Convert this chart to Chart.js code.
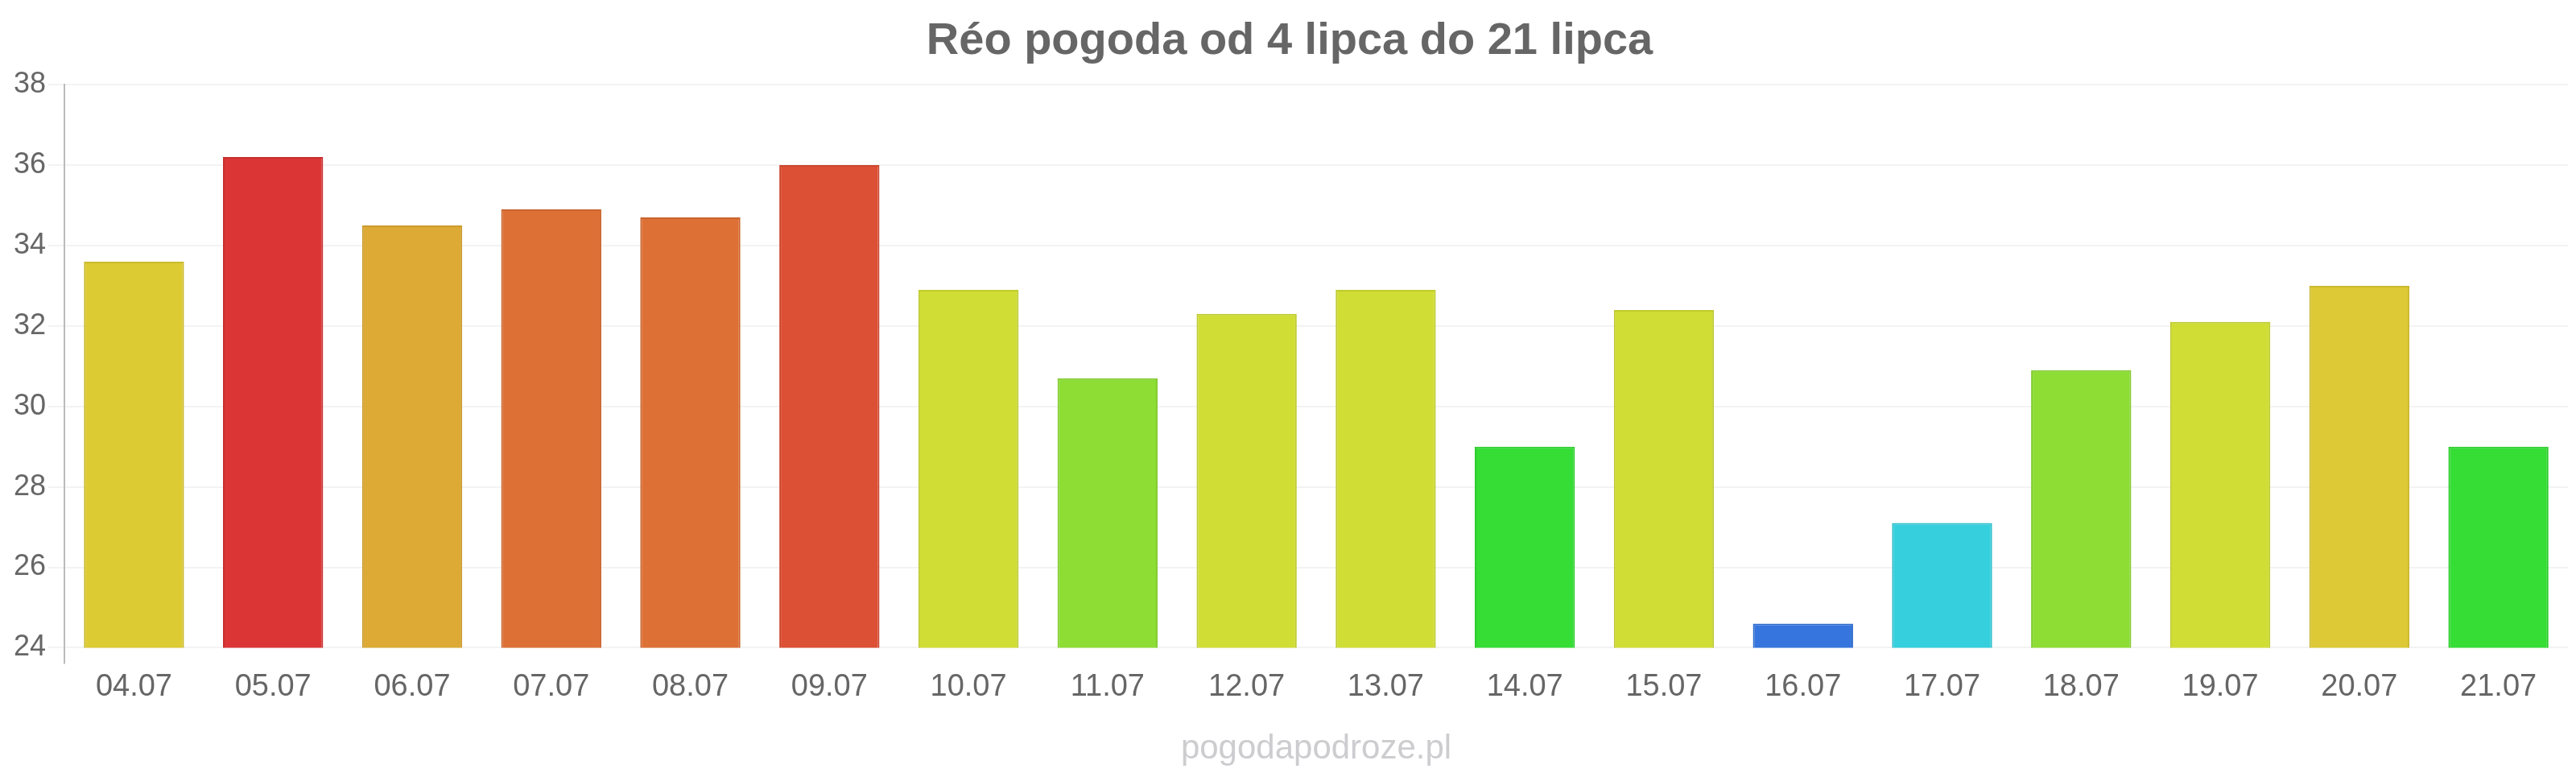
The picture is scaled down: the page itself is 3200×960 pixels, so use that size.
<!DOCTYPE html>
<html>
<head>
<meta charset="utf-8">
<script src="https://cdn.jsdelivr.net/npm/chart.js@4"></script>
<style>
html,body{margin:0;padding:0;background:#fff;}
#wrap{width:3200px;height:960px;position:relative;}
</style>
</head>
<body>
<div id="wrap"><canvas id="c" width="3200" height="960"></canvas></div>
<script>
const categories = ["04.07","05.07","06.07","07.07","08.07","09.07","10.07","11.07","12.07","13.07","14.07","15.07","16.07","17.07","18.07","19.07","20.07","21.07"];
const temperatures = [33.6,36.2,34.5,34.9,34.7,36.0,32.9,30.7,32.3,32.9,29.0,32.4,24.6,27.1,30.9,32.1,33.0,29.0];
const barColors = ["#dccb33","#db3535","#dcaa35","#dd7035","#dd7035","#dc5035","#d0dd35","#8ddd35","#d0dd35","#d0dd35","#35dd35","#d0dd35","#3575dd","#35cfdd","#8ddd35","#d0dd35","#dcc935","#35dd35"];
const borderColors = ["#cbbb2c","#c92e2e","#cb9b2e","#cb642e","#cb642e","#cb472e","#bfcb2e","#80cb2e","#bfcb2e","#bfcb2e","#2ecb2e","#bfcb2e","#2e6acb","#2ebecb","#80cb2e","#bfcb2e","#cbb92e","#2ecb2e"];
const yTicks = [24,26,28,30,32,34,36,38];
const titleText = "Réo pogoda od 4 lipca do 21 lipca";
const watermark = "pogodapodroze.pl";

const FONT = "'Liberation Sans', Arial, sans-serif";

const watermarkPlugin = {
  id: 'watermark',
  afterDraw(chart) {
    const ctx = chart.ctx;
    const a = chart.chartArea;
    ctx.save();
    ctx.font = "42px " + FONT;
    ctx.fillStyle = '#cdcdd0';
    ctx.textAlign = 'center';
    ctx.textBaseline = 'alphabetic';
    ctx.fillText(watermark, (a.left + a.right) / 2, 942);
    ctx.restore();
  }
};

new Chart(document.getElementById('c'), {
  type: 'bar',
  data: {
    labels: categories,
    datasets: [{
      data: temperatures,
      backgroundColor: barColors,
      borderColor: borderColors,
      borderWidth: 2
    }]
  },
  plugins: [watermarkPlugin],
  options: {
    responsive: false,
    animation: false,
    devicePixelRatio: 1,
    layout: { padding: { left: 14, right: 10, top: 8, bottom: 78 } },
    plugins: {
      legend: { display: false },
      tooltip: { enabled: false },
      title: {
        display: true,
        text: titleText,
        color: '#666666',
        font: { family: FONT, size: 56, weight: 'bold' },
        padding: { top: 10, bottom: 20 }
      }
    },
    scales: {
      x: {
        grid: {
          display: true,
          color: 'rgba(0,0,0,0)',
          tickColor: (ctx) => ctx.index === 0 ? '#bbbbbb' : 'rgba(0,0,0,0)',
          tickLength: 20,
          lineWidth: 2
        },
        border: { display: false },
        ticks: {
          color: '#666666',
          font: { family: FONT, size: 38 },
          padding: 6
        }
      },
      y: {
        min: 24,
        max: 38,
        afterBuildTicks: (axis) => { axis.ticks = yTicks.map(v => ({ value: v })); },
        grid: {
          color: '#f3f3f3',
          lineWidth: 2,
          tickLength: 20
        },
        border: { display: true, color: '#bbbbbb', width: 2 },
        ticks: {
          color: '#666666',
          font: { family: FONT, size: 36 },
          padding: 3
        }
      }
    }
  }
});
</script>
</body>
</html>
